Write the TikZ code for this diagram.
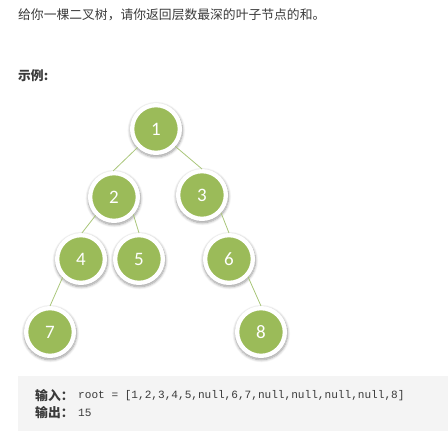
\documentclass[tikz,border=0pt]{standalone}
\usepackage{fontspec}
\setmainfont{Carlito}
\newfontfamily\cjk{Noto Sans CJK SC}
\newfontfamily\codefont{Liberation Mono}
\usetikzlibrary{shadows.blur}
\definecolor{leaf}{HTML}{9BBB59}
\definecolor{edgec}{HTML}{A9C67A}
\definecolor{txt}{HTML}{3A3A3A}
\definecolor{boxc}{HTML}{F4F4F4}
\tikzset{
  tnode/.style={circle, fill=leaf, draw=white, line width=4.3pt, minimum size=47.7pt, inner sep=0pt,
    text=white, font=\fontsize{19}{19}\selectfont,
    blur shadow={shadow scale=1.1, shadow xshift=0.3pt, shadow yshift=-1.4pt, shadow blur radius=2.5pt, shadow blur steps=8, shadow opacity=40}},
  tedge/.style={draw=edgec, line width=0.8pt},
  cjktext/.style={anchor=west, inner sep=0pt, text=txt, font=\cjk\fontsize{12.8}{14}\selectfont},
  codetext/.style={anchor=west, inner sep=0pt, text=txt, font=\codefont\fontsize{11.1}{13}\selectfont}
}
\begin{document}
\begin{tikzpicture}[x=1pt,y=-1pt]
\useasboundingbox (0,0) rectangle (448,431);
\fill[boxc] (18,376) rectangle (448,431);
\node[cjktext] (title) at (18,15) {给你一棵二叉树，请你返回层数最深的叶子节点的和。};
\node[cjktext, font=\cjk\bfseries\fontsize{12.8}{14}\selectfont] (ex) at (18,76) {示例:};
\node (n1) [tnode] at (156,129) {1};
\node (n2) [tnode] at (114,197) {2};
\node (n3) [tnode] at (202,195) {3};
\node (n4) [tnode] at (81,259) {4};
\node (n5) [tnode] at (139,259) {5};
\node (n6) [tnode] at (229,259) {6};
\node (n7) [tnode] at (50,332) {7};
\node (n8) [tnode] at (261,332) {8};
\draw[tedge] (n1.225) -- (n2.92);
\draw[tedge] (n1.318) -- (n3.90);
\draw[tedge] (n2.225) -- (n4.88);
\draw[tedge] (n2.318) -- (n5.90);
\draw[tedge] (n3.317) -- (n6.90);
\draw[tedge] (n4.225) -- (n7.90);
\draw[tedge] (n6.317) -- (n8.90);
\node[cjktext, font=\cjk\bfseries\fontsize{12.8}{14}\selectfont] (inl) at (35,396) {输入：};
\node[codetext] (inv) at (78,396) {root = [1,2,3,4,5,null,6,7,null,null,null,null,8]};
\node[cjktext, font=\cjk\bfseries\fontsize{12.8}{14}\selectfont] (outl) at (35,413) {输出：};
\node[codetext] (outv) at (78,413) {15};
\end{tikzpicture}
\end{document}
